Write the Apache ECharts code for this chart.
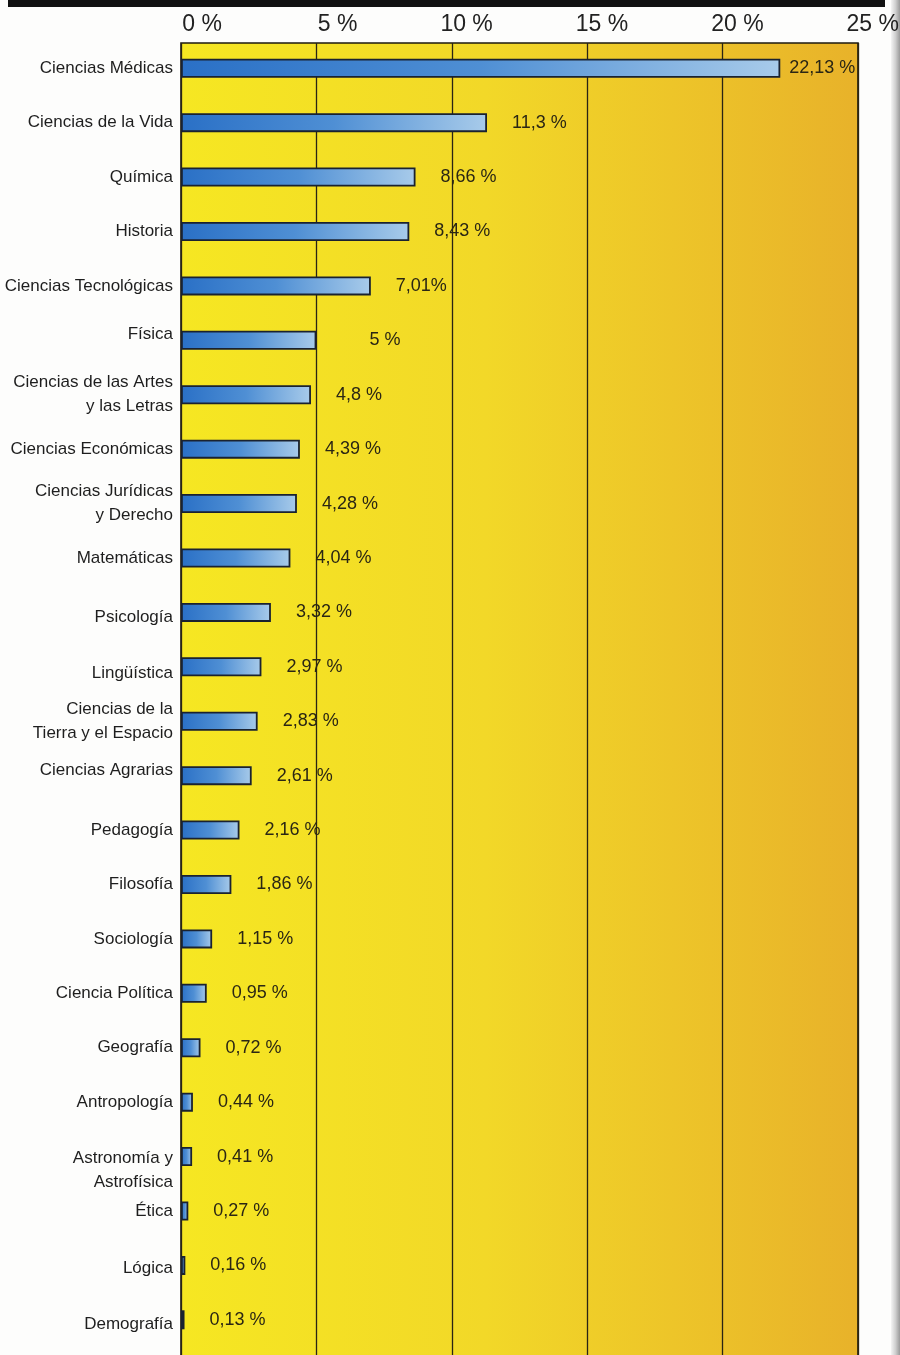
<!DOCTYPE html>
<html>
<head>
<meta charset="utf-8">
<script src="https://cdn.jsdelivr.net/npm/echarts@6/dist/echarts.min.js"></script>
<style>
html,body{margin:0;padding:0;background:#fdfdfc;}
#chart{width:900px;height:1355px;}
</style>
</head>
<body>
<div id="chart"></div>
<script>
const categories = [
  'Ciencias Médicas', 'Ciencias de la Vida', 'Química', 'Historia',
  'Ciencias Tecnológicas', 'Física', 'Ciencias de las Artes\ny las Letras',
  'Ciencias Económicas', 'Ciencias Jurídicas\ny Derecho', 'Matemáticas',
  'Psicología', 'Lingüística', 'Ciencias de la\nTierra y el Espacio',
  'Ciencias Agrarias', 'Pedagogía', 'Filosofía', 'Sociología',
  'Ciencia Política', 'Geografía', 'Antropología', 'Astronomía y\nAstrofísica',
  'Ética', 'Lógica', 'Demografía'
];
const values = [
  22.13, 11.3, 8.66, 8.43, 7.01, 5, 4.8, 4.39, 4.28, 4.04, 3.32, 2.97,
  2.83, 2.61, 2.16, 1.86, 1.15, 0.95, 0.72, 0.44, 0.41, 0.27, 0.16, 0.13
];
const valueLabels = [
  '22,13 %', '11,3 %', '8,66 %', '8,43 %', '7,01%', '5 %', '4,8 %', '4,39 %',
  '4,28 %', '4,04 %', '3,32 %', '2,97 %', '2,83 %', '2,61 %', '2,16 %', '1,86 %',
  '1,15 %', '0,95 %', '0,72 %', '0,44 %', '0,41 %', '0,27 %', '0,16 %', '0,13 %'
];
const tickLabels = ['0 %', '5 %', '10 %', '15 %', '20 %', '25 %'];

// label placement tweaks (by category index)
const labelDistance = { 0: 9, 5: 53 };
const catShift = { 5: -6, 10: 5, 11: 7, 13: -5, 20: 14, 22: 3, 23: 5 };

const chart = echarts.init(document.getElementById('chart'), null, { renderer: 'canvas' });

const barData = values.map((v, i) => {
  const item = { value: v };
  if (labelDistance[i] !== undefined) item.label = { distance: labelDistance[i] };
  return item;
});

const catFont = "'Liberation Sans', Arial, sans-serif";
const richStyles = { n: { fontSize: 17, lineHeight: 24, fontFamily: catFont, color: '#1e1e1e', align: 'right' } };
Object.keys(catShift).forEach((k) => {
  const s = catShift[k];
  richStyles['s' + k] = {
    fontSize: 17, lineHeight: 24, fontFamily: catFont, color: '#1e1e1e', align: 'right',
    padding: s > 0 ? [2 * s, 0, 0, 0] : [0, 0, -2 * s, 0]
  };
});
function catFormatter(value, index) {
  const lines = String(value).split('\n');
  const key = catShift[index] !== undefined ? 's' + index : 'n';
  return lines.map((ln) => '{' + key + '|' + ln + '}').join('\n');
}

const bgGradient = new echarts.graphic.LinearGradient(0, 0, 1, 0, [
  { offset: 0, color: '#f6e722' },
  { offset: 0.45, color: '#f2d828' },
  { offset: 1, color: '#e8b22a' }
]);
const barGradient = new echarts.graphic.LinearGradient(0, 0, 1, 0, [
  { offset: 0, color: '#2a70c6' },
  { offset: 0.5, color: '#4f8fd4' },
  { offset: 1, color: '#a8cbea' }
]);

const option = {
  animation: false,
  backgroundColor: '#fdfdfc',
  grid: [
    { left: 181, right: 42, top: 41, bottom: 8, containLabel: false, outerBoundsMode: 'none' },
    { left: 181, right: 42, top: 43, bottom: -2, show: true, backgroundColor: bgGradient,
      borderColor: '#1c1a10', borderWidth: 1.6, z: 0, outerBoundsMode: 'none' },
    { left: 222, right: 1, top: 43, bottom: 0, show: false, outerBoundsMode: 'none' }
  ],
  xAxis: [
    { gridIndex: 0, type: 'value', min: 0, max: 25, interval: 5, show: false },
    { gridIndex: 1, type: 'value', min: 0, max: 25, interval: 5,
      axisLine: { show: true, lineStyle: { color: '#1c1a10', width: 2 } },
      axisTick: { show: false }, axisLabel: { show: false },
      splitLine: { show: true, lineStyle: { color: '#2a2414', width: 1.3 } } },
    { gridIndex: 2, type: 'value', min: 0, max: 25, interval: 5, position: 'top',
      axisLine: { show: false }, axisTick: { show: false }, splitLine: { show: false },
      axisLabel: { show: true, align: 'right', margin: 7, fontSize: 23,
        fontFamily: "'Liberation Sans', Arial, sans-serif", color: '#222',
        formatter: (v) => tickLabels[Math.round(v / 5)] } }
  ],
  yAxis: [
    { gridIndex: 0, type: 'category', inverse: true, data: categories,
      axisLine: { show: false }, axisTick: { show: false },
      axisLabel: { margin: 8, fontSize: 17, lineHeight: 24, align: 'right',
        fontFamily: catFont, color: '#1e1e1e',
        formatter: catFormatter, rich: richStyles } },
    { gridIndex: 1, type: 'value', show: false, min: 0, max: 1,
      axisLine: { show: true, lineStyle: { color: '#1c1a10', width: 2 } } },
    { gridIndex: 2, type: 'value', show: false, min: 0, max: 1 }
  ],
  series: [{
    type: 'bar',
    xAxisIndex: 0, yAxisIndex: 0,
    data: barData,
    barWidth: 19,
    z: 5,
    itemStyle: { color: barGradient, borderColor: '#1a2230', borderWidth: 1.8 },
    label: { show: true, position: 'right', distance: 25, fontSize: 18,
      fontFamily: "'Liberation Sans', Arial, sans-serif", color: '#2a2614',
      formatter: (p) => valueLabels[p.dataIndex] }
  }],
  graphic: [
    { type: 'rect', left: 8, top: 0, shape: { width: 877, height: 7 }, style: { fill: '#111' }, z: 10 },
    { type: 'rect', left: 891, top: 0, shape: { width: 9, height: 1355 },
      style: { fill: new echarts.graphic.LinearGradient(0, 0, 1, 0, [
        { offset: 0, color: '#f4f4f4' }, { offset: 0.5, color: '#cfcfcf' }, { offset: 1, color: '#9a9a9a' }]) }, z: 0 }
  ]
};
chart.setOption(option);
</script>
</body>
</html>
